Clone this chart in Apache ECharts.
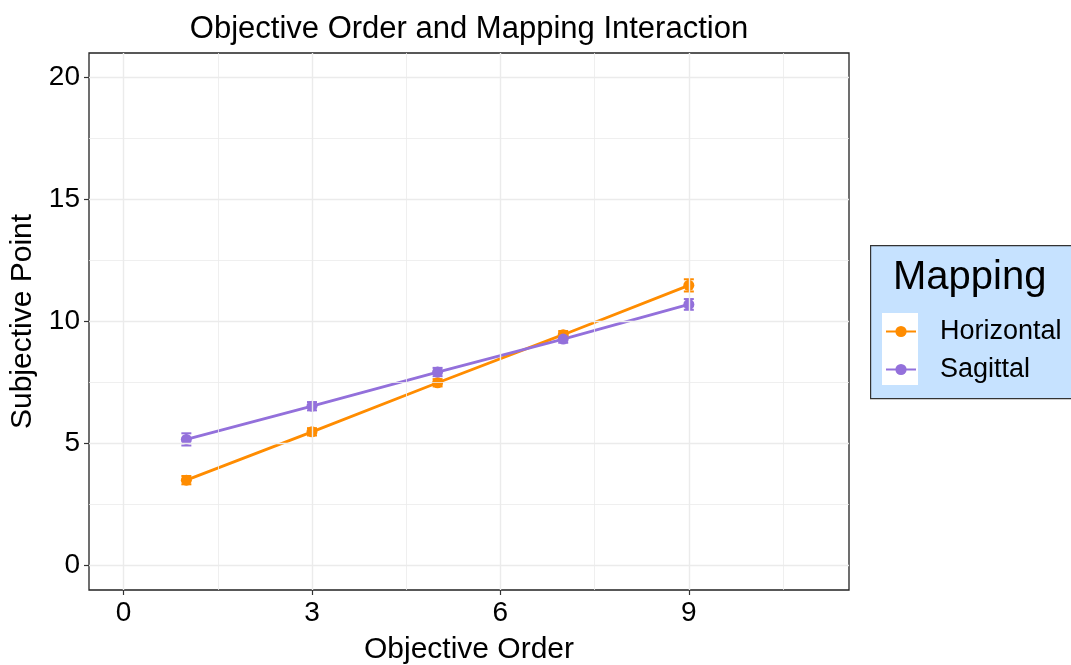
<!DOCTYPE html>
<html>
<head>
<meta charset="utf-8">
<script src="https://cdn.jsdelivr.net/npm/echarts@6/dist/echarts.min.js"></script>
<style>html,body{margin:0;padding:0;background:#fff;}#c{width:1071px;height:665px;}</style>
</head>
<body>
<div id="c"></div>
<script>
const xValues = [1, 3, 5, 7, 9];
const horizontal = [3.50, 5.48, 7.49, 9.46, 11.48];
const horizontalErr = [0.17, 0.15, 0.15, 0.15, 0.25];
const sagittal = [5.17, 6.53, 7.93, 9.28, 10.70];
const sagittalErr = [0.25, 0.17, 0.17, 0.15, 0.22];
const xTicks = [0, 3, 6, 9];
const xMinor = [1.5, 4.5, 7.5, 10.5];
const yTicks = [0, 5, 10, 15, 20];
const yMinor = [2.5, 7.5, 12.5, 17.5];

const FONT = '"Liberation Sans", Arial, sans-serif';
const ORANGE = '#FF8C00';
const PURPLE = '#9370DB';

function pairs(ys) { return xValues.map((x, i) => [x, ys[i]]); }
function errData(ys, es) { return xValues.map((x, i) => [x, ys[i] - es[i], ys[i] + es[i]]); }

function errSeries(name, ys, es, color) {
  return {
    type: 'custom', name: name + '_err', z: 3,
    data: errData(ys, es),
    renderItem: function (params, api) {
      const x = api.value(0);
      const lo = api.coord([x, api.value(1)]);
      const hi = api.coord([x, api.value(2)]);
      const w = 5;
      return {
        type: 'group',
        children: [
          { type: 'line', shape: { x1: lo[0], y1: lo[1], x2: hi[0], y2: hi[1] }, style: { stroke: color, lineWidth: 2 } },
          { type: 'line', shape: { x1: lo[0] - w, y1: lo[1], x2: lo[0] + w, y2: lo[1] }, style: { stroke: color, lineWidth: 2 } },
          { type: 'line', shape: { x1: hi[0] - w, y1: hi[1], x2: hi[0] + w, y2: hi[1] }, style: { stroke: color, lineWidth: 2 } }
        ]
      };
    }
  };
}

const gridLines = []
  .concat(xMinor.map(v => ({ xAxis: v, lineStyle: { width: 0.8 } })))
  .concat(yMinor.map(v => ({ yAxis: v, lineStyle: { width: 0.8 } })))
  .concat(xTicks.map(v => ({ xAxis: v, lineStyle: { width: 1.4 } })))
  .concat(yTicks.map(v => ({ yAxis: v, lineStyle: { width: 1.4 } })));

const chart = echarts.init(document.getElementById('c'), null, { renderer: 'canvas' });
chart.setOption({
  animation: false,
  backgroundColor: '#fff',
  title: {
    text: 'Objective Order and Mapping Interaction',
    left: 464, top: 9, textAlign: 'center',
    textStyle: { fontFamily: FONT, fontSize: 31, fontWeight: 'normal', color: '#000' }
  },
  grid: { left: 89, right: 222, top: 53, bottom: 75, show: true, borderColor: '#222', borderWidth: 1.3, backgroundColor: '#fff', outerBoundsMode: 'none', containLabel: false },
  xAxis: {
    type: 'value', min: -0.55, max: 11.55,
    name: 'Objective Order', nameLocation: 'middle', nameGap: 45,
    nameTextStyle: { fontFamily: FONT, fontSize: 30, color: '#000' },
    axisLine: { show: false, onZero: false },
    axisTick: { show: true, customValues: xTicks, length: 5, lineStyle: { color: '#333', width: 1.2 } },
    axisLabel: { customValues: xTicks, fontFamily: FONT, fontSize: 28, color: '#000', margin: 9 },
    splitLine: { show: false }
  },
  yAxis: {
    type: 'value', min: -1, max: 21,
    name: 'Subjective Point', nameLocation: 'middle', nameGap: 50,
    nameTextStyle: { fontFamily: FONT, fontSize: 30, color: '#000' },
    axisLine: { show: false, onZero: false },
    axisTick: { show: true, customValues: yTicks, length: 5, lineStyle: { color: '#333', width: 1.2 } },
    axisLabel: { customValues: yTicks, fontFamily: FONT, fontSize: 28, color: '#000', margin: 9 },
    splitLine: { show: false }
  },
  legend: {
    data: ['Horizontal', 'Sagittal'],
    orient: 'vertical', left: 885, top: 318, padding: 0,
    itemWidth: 30, itemHeight: 14, itemGap: 11,
    textStyle: { fontFamily: FONT, fontSize: 27, color: '#000', padding: [0, 0, 0, 19] }
  },
  graphic: [
    { type: 'rect', left: 870, top: 245, z: -1, shape: { width: 220, height: 153 }, style: { fill: '#C6E2FF', stroke: '#333', lineWidth: 1.2 } },
    { type: 'rect', left: 882, top: 313, z: 0, shape: { width: 36, height: 72 }, style: { fill: '#fff' } },
    { type: 'text', x: 893, y: 278, z: 1, style: { text: 'Mapping', font: '40px ' + FONT, fill: '#000', verticalAlign: 'middle' } }
  ],
  series: [
    {
      type: 'line', name: '__grid', data: [], silent: true, z: 0,
      markLine: {
        silent: true, symbol: 'none', label: { show: false },
        lineStyle: { color: '#EBEBEB', type: 'solid' },
        data: gridLines, animation: false
      }
    },
    errSeries('Horizontal', horizontal, horizontalErr, ORANGE),
    errSeries('Sagittal', sagittal, sagittalErr, PURPLE),
    {
      type: 'line', name: 'Horizontal', data: pairs(horizontal), z: 4,
      symbol: 'circle', symbolSize: 11,
      itemStyle: { color: ORANGE }, lineStyle: { color: ORANGE, width: 2.8 }
    },
    {
      type: 'line', name: 'Sagittal', data: pairs(sagittal), z: 4,
      symbol: 'circle', symbolSize: 11,
      itemStyle: { color: PURPLE }, lineStyle: { color: PURPLE, width: 2.8 }
    }
  ]
});
</script>
</body>
</html>
